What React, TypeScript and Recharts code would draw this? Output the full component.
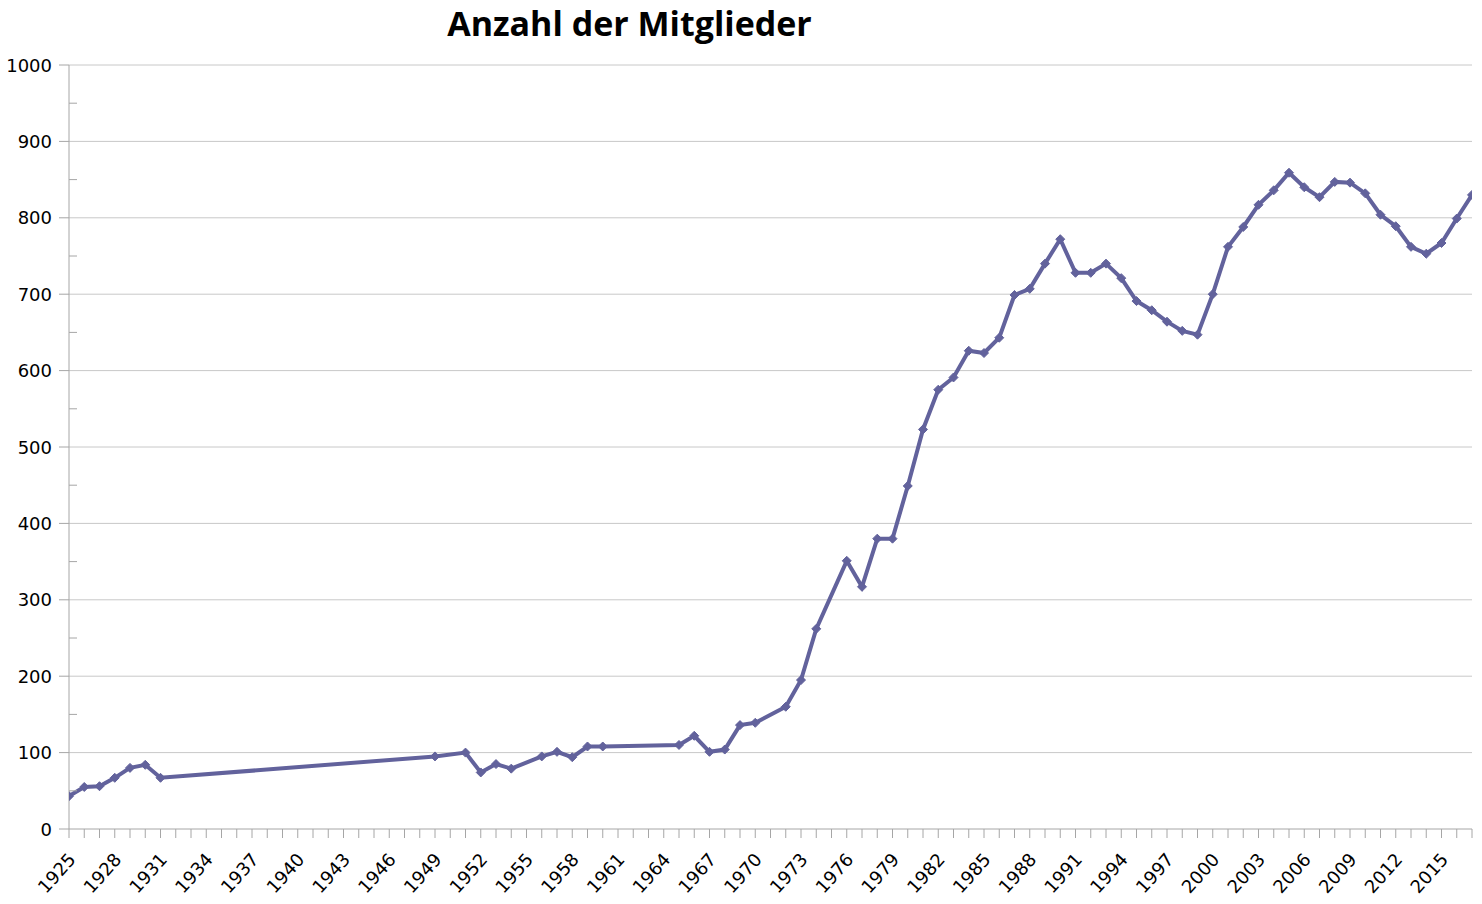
import React from 'react';
import { LineChart, Line, XAxis, YAxis, CartesianGrid } from 'recharts';

const years = [
  1925, 1926, 1927, 1928, 1929, 1930, 1931, 1949, 1951, 1952, 1953, 1954, 1956, 1957, 1958, 1959, 1960,
  1965, 1966, 1967, 1968, 1969, 1970, 1972, 1973, 1974, 1976, 1977, 1978, 1979, 1980, 1981, 1982, 1983,
  1984, 1985, 1986, 1987, 1988, 1989, 1990, 1991, 1992, 1993, 1994, 1995, 1996, 1997, 1998, 1999, 2000,
  2001, 2002, 2003, 2004, 2005, 2006, 2007, 2008, 2009, 2010, 2011, 2012, 2013, 2014, 2015, 2016, 2017,
];
const members = [
  43, 55, 56, 67, 80, 84, 67, 95, 100, 74, 85, 79, 95, 101, 94, 108, 108,
  110, 122, 101, 104, 136, 139, 160, 195, 262, 351, 317, 380, 380, 449, 523, 575, 591,
  626, 623, 643, 699, 707, 740, 772, 728, 728, 740, 721, 691, 679, 664, 652, 647, 700,
  762, 788, 817, 836, 859, 840, 827, 847, 846, 832, 804, 789, 762, 753, 767, 799, 830,
];
const title = 'Anzahl der Mitglieder';
const xStart = 1925;
const xEnd = 2017;
const xLabelStep = 3;
const yTicks = [0, 50, 100, 150, 200, 250, 300, 350, 400, 450, 500, 550, 600, 650, 700, 750, 800, 850, 900, 950, 1000];
const yGrid = [100, 200, 300, 400, 500, 600, 700, 800, 900, 1000];

const xTicks: number[] = [];
for (let y = xStart; y <= xEnd; y++) xTicks.push(y);

const data = years.map((y, i) => ({ year: y, value: members[i] }));

const LINE = '#62629c';
const AXIS = '#a6a6a6';
const FONT = 'DejaVu Sans, sans-serif';

const XTick = (props: any) => {
  const { x, y, payload } = props;
  const v = payload.value as number;
  const showLabel = (v - xStart) % xLabelStep === 0;
  const ax = x + 4;
  const ay = y + 28;
  return (
    <g>
      <line x1={x} y1={y} x2={x} y2={y + 9} stroke={AXIS} strokeWidth={1} />
      {showLabel && (
        <text
          x={ax}
          y={ay}
          transform={`rotate(-48 ${ax} ${ay})`}
          textAnchor="end"
          dominantBaseline="middle"
          fontFamily={FONT}
          fontSize={18}
          fill="#000"
        >
          {v}
        </text>
      )}
    </g>
  );
};

const YTick = (props: any) => {
  const { x, y, payload } = props;
  const v = payload.value as number;
  const major = v % 100 === 0;
  if (!major) {
    return <line x1={x} y1={y} x2={x + 8} y2={y} stroke={AXIS} strokeWidth={1} />;
  }
  return (
    <g>
      <line x1={x - 10} y1={y} x2={x} y2={y} stroke={AXIS} strokeWidth={1} />
      <text
        x={x - 17}
        y={y}
        textAnchor="end"
        dominantBaseline="central"
        fontFamily={FONT}
        fontSize={18}
        fill="#000"
      >
        {v}
      </text>
    </g>
  );
};

const Diamond = (props: any) => {
  const { cx, cy } = props;
  if (cx == null || cy == null) return null;
  const r = 4.5;
  return (
    <path
      d={`M${cx},${cy - r} L${cx + r},${cy} L${cx},${cy + r} L${cx - r},${cy} Z`}
      fill={LINE}
      stroke={LINE}
      strokeWidth={1}
    />
  );
};

export default function App() {
  return (
    <div style={{ position: 'absolute', left: 0, top: 0, width: 1482, height: 904, background: '#fff' }}>
      <div
        style={{
          position: 'absolute',
          left: 0,
          top: 0,
          width: 1259,
          textAlign: 'center',
          fontFamily: 'Open Sans, sans-serif',
          fontWeight: 700,
          fontSize: 34,
          lineHeight: 'normal',
          color: '#000',
        }}
      >
        {title}
      </div>
      <LineChart width={1482} height={904} data={data} margin={{ top: 65, right: 10, left: 9, bottom: 10 }}>
        <CartesianGrid horizontal={true} vertical={false} horizontalValues={yGrid} stroke="#c8c8c8" strokeWidth={1} />
        <XAxis
          dataKey="year"
          type="number"
          domain={[xStart, xEnd]}
          ticks={xTicks}
          interval={0}
          height={65}
          tickSize={0}
          tickMargin={0}
          tickLine={false}
          axisLine={{ stroke: AXIS, strokeWidth: 1 }}
          tick={<XTick />}
          allowDataOverflow
        />
        <YAxis
          type="number"
          domain={[0, 1000]}
          ticks={yTicks}
          interval={0}
          width={60}
          tickSize={0}
          tickMargin={0}
          tickLine={false}
          axisLine={{ stroke: AXIS, strokeWidth: 1 }}
          tick={<YTick />}
        />
        <Line
          type="linear"
          dataKey="value"
          stroke={LINE}
          strokeWidth={4}
          dot={<Diamond />}
          activeDot={false}
          isAnimationActive={false}
        />
      </LineChart>
    </div>
  );
}
